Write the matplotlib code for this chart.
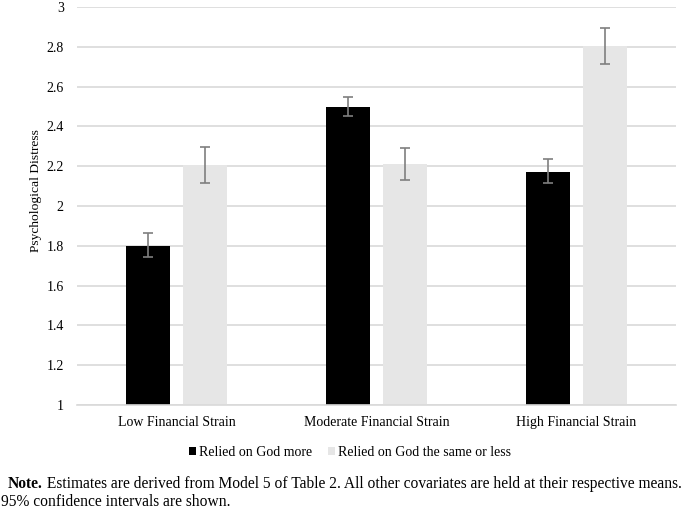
import matplotlib
matplotlib.use("Agg")
import matplotlib.pyplot as plt
import numpy as np
from matplotlib.patches import Patch

categories = ["Low Financial Strain", "Moderate Financial Strain", "High Financial Strain"]
series_names = ["Relied on God more", "Relied on God the same or less"]
more_vals = [1.80, 2.50, 2.17]
more_lo = [1.745, 2.45, 2.115]
more_hi = [1.865, 2.55, 2.235]
same_vals = [2.205, 2.21, 2.805]
same_lo = [2.115, 2.13, 2.715]
same_hi = [2.295, 2.29, 2.895]
yticks = [1, 1.2, 1.4, 1.6, 1.8, 2, 2.2, 2.4, 2.6, 2.8, 3]
ytick_labels = ["1", "1.2", "1.4", "1.6", "1.8", "2", "2.2", "2.4", "2.6", "2.8", "3"]
note_bold = "Note."
note_line1 = " Estimates are derived from Model 5 of Table 2. All other covariates are held at their respective means."
note_line2 = "95% confidence intervals are shown."

plt.rcParams['font.family'] = ['Liberation Serif', 'DejaVu Serif']

fig = plt.figure(figsize=(6.85, 5.11), dpi=100)
ax = fig.add_axes([77/685, 1-405/511, 599/685, 398/511])

x = np.arange(len(categories))
w = 0.22
off = 0.143
colors = ["#000000", "#e6e6e6"]

def errs(v, lo, hi):
    v = np.array(v); return [v - np.array(lo), np.array(hi) - v]

ax.bar(x - off, np.array(more_vals) - 1, w, bottom=1, color=colors[0], zorder=2)
ax.bar(x + off, np.array(same_vals) - 1, w, bottom=1, color=colors[1], zorder=2)
ax.errorbar(x - off, more_vals, yerr=errs(more_vals, more_lo, more_hi), fmt='none',
            ecolor="#7f7f7f", elinewidth=1.2, capsize=3.5, capthick=1.2, zorder=3)
ax.errorbar(x + off, same_vals, yerr=errs(same_vals, same_lo, same_hi), fmt='none',
            ecolor="#7f7f7f", elinewidth=1.2, capsize=3.5, capthick=1.2, zorder=3)

ax.set_xlim(-0.5, 2.5)
ax.set_ylim(1, 3)
ax.set_yticks(yticks)
ax.set_yticklabels(ytick_labels, fontsize=10)
ax.set_xticks(x)
ax.set_xticklabels(categories, fontsize=10)
ax.tick_params(axis='x', length=0, pad=8)
ax.tick_params(axis='y', length=0, pad=9.5)
ax.yaxis.grid(True, color="#d9d9d9", linewidth=1.2, zorder=0)
ax.set_axisbelow(True)
for s in ["top", "right", "left"]:
    ax.spines[s].set_visible(False)
ax.spines["bottom"].set_color("#d9d9d9")
ax.spines["bottom"].set_linewidth(1.2)
ax.set_ylabel("Psychological Distress", fontsize=9.7)
ax.yaxis.set_label_coords((42-77)/599, (405-191)/398)

handles = [Patch(facecolor=colors[0], edgecolor='none'), Patch(facecolor=colors[1], edgecolor='none')]
fig.legend(handles, series_names, loc="center", bbox_to_anchor=(350/685, 1-452/511), ncol=2, frameon=False,
           fontsize=10, handlelength=0.5, handleheight=0.5, handletextpad=0.25, columnspacing=1.1)

fs_note = 11.2
t1 = fig.text(8/685, 1-484/511, note_bold, fontsize=fs_note, va="center", ha="left", weight="bold")
fig.canvas.draw()
r = fig.canvas.get_renderer()
bb = t1.get_window_extent(renderer=r)
fig.text(bb.x1/685, 1-484/511, note_line1, fontsize=fs_note, va="center", ha="left")
fig.text(1/685, 1-502/511, note_line2, fontsize=fs_note, va="center", ha="left")
fig.savefig("out.png", dpi=100)
